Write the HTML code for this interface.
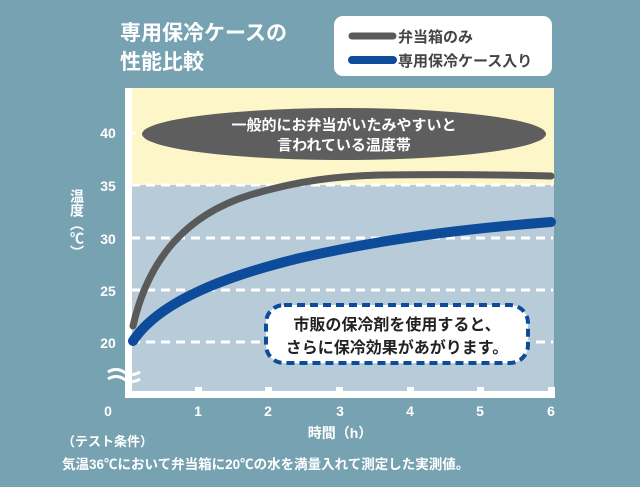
<!DOCTYPE html>
<html><head><meta charset="utf-8"><style>
body{margin:0;width:640px;height:487px;background:#77a2b1;overflow:hidden}
svg{display:block}
text{font-family:"Liberation Sans","Noto Sans CJK JP",sans-serif;font-weight:bold}
</style></head><body>
<svg width="640" height="487" viewBox="0 0 640 487">
<rect width="640" height="487" fill="#77a2b1"/>
<text x="120" y="40" font-size="21" fill="#fff">専用保冷ケースの</text>
<text x="120" y="69" font-size="21" fill="#fff">性能比較</text>
<rect x="334" y="16" width="218" height="60" rx="9" fill="#fff"/>
<line x1="352" y1="36" x2="393" y2="36" stroke="#5a5a5a" stroke-width="7" stroke-linecap="round"/>
<text x="398" y="42" font-size="15" fill="#444">弁当箱のみ</text>
<line x1="352" y1="60" x2="393" y2="60" stroke="#0d4c9a" stroke-width="8" stroke-linecap="round"/>
<text x="398" y="66" font-size="15" fill="#444">専用保冷ケース入り</text>
<rect x="131" y="88" width="423" height="97" fill="#fdf6c8"/>
<rect x="131" y="185" width="423" height="207" fill="#b7ccd8"/>
<g stroke="#fff" stroke-width="3" stroke-dasharray="9,6">
<line x1="131" y1="185" x2="553" y2="185"/>
<line x1="131" y1="238" x2="553" y2="238"/>
<line x1="131" y1="290" x2="553" y2="290"/>
<line x1="131" y1="342" x2="553" y2="342"/>
</g>
<rect x="125" y="88" width="7" height="310" fill="#fff"/>
<rect x="125" y="391" width="430" height="7" fill="#fff"/>
<g fill="#fff"><rect x="195" y="387" width="7" height="5"/><rect x="265" y="387" width="7" height="5"/><rect x="336" y="387" width="7" height="5"/><rect x="407" y="387" width="7" height="5"/><rect x="477" y="387" width="7" height="5"/><rect x="548" y="387" width="7" height="5"/>
<rect x="132" y="132" width="4" height="3"/></g>
<path d="M108 372 q8 -5 16 0 t16 0 M108 379 q8 -5 16 0 t16 0" stroke="#fff" stroke-width="3" fill="none"/>
<ellipse cx="344" cy="134" rx="202" ry="26" fill="#5e5e5e"/>
<text x="344" y="130" font-size="15" fill="#fff" text-anchor="middle">一般的にお弁当がいたみやすいと</text>
<text x="344" y="150" font-size="15" fill="#fff" text-anchor="middle">言われている温度帯</text>
<path d="M133 326 C148 260,185 215,250 195 C300 180,340 176,380 175 C450 174,510 175,551 176" stroke="#5a5a5a" stroke-width="7" fill="none" stroke-linecap="round"/>
<path d="M133 341 C160 300,230 275,300 258 C380 240,450 230,551 222" stroke="#0d4c9a" stroke-width="10" fill="none" stroke-linecap="round"/>
<rect x="266" y="305" width="262" height="58" rx="18" fill="#fff" stroke="#0d4c9a" stroke-width="4" stroke-dasharray="8,5"/>
<text x="397" y="330" font-size="16" fill="#222" text-anchor="middle">市販の保冷剤を使用すると、</text>
<text x="397" y="353" font-size="16" fill="#222" text-anchor="middle">さらに保冷効果があがります。</text>
<g font-size="14" fill="#fff" text-anchor="middle">
<text x="108" y="138">40</text><text x="108" y="191">35</text><text x="108" y="244">30</text><text x="108" y="296">25</text><text x="108" y="348">20</text>
<text x="108" y="416">0</text><text x="198" y="416">1</text><text x="268" y="416">2</text><text x="340" y="416">3</text><text x="410" y="416">4</text><text x="480" y="416">5</text><text x="551" y="416">6</text>
</g>
<text x="340" y="438" font-size="14" fill="#fff" text-anchor="middle">時間（h）</text>
<text x="77" y="224" font-size="14" fill="#fff" text-anchor="middle" writing-mode="tb">温度（℃）</text>
<text x="62" y="446" font-size="13" fill="#fff">（テスト条件）</text>
<text x="62" y="469" font-size="13.5" fill="#fff">気温36℃において弁当箱に20℃の水を満量入れて測定した実測値。</text>
</svg>
</body></html>
